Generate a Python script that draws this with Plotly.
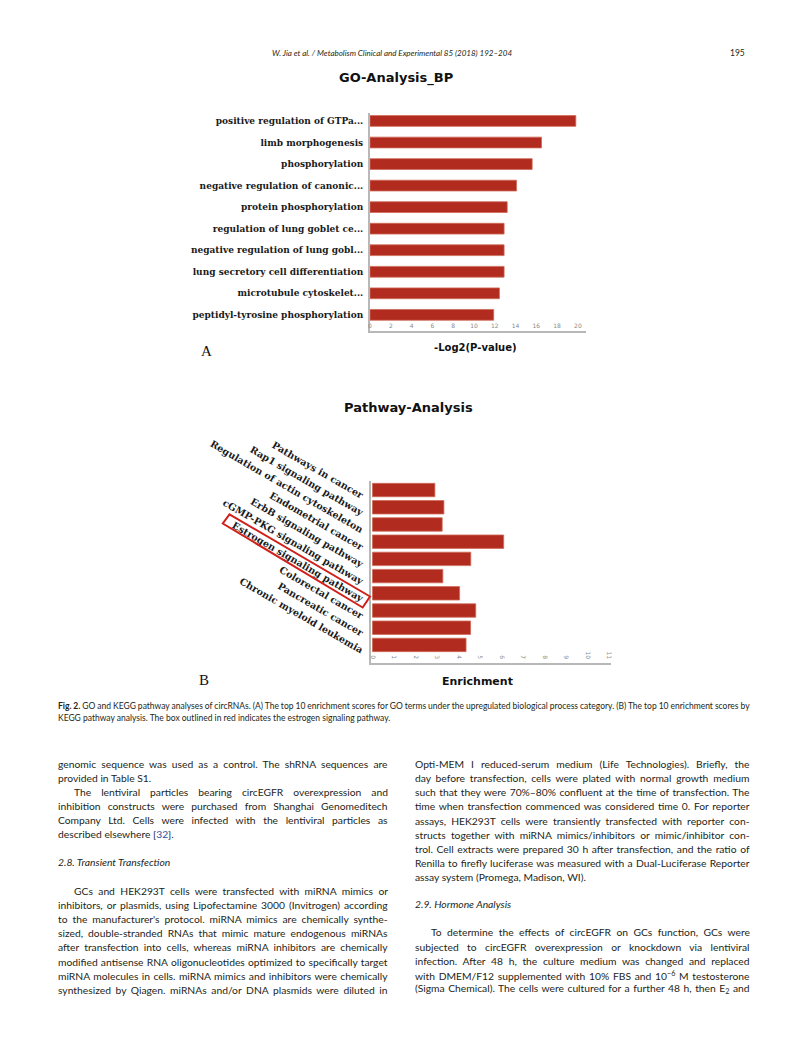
import json
import plotly.graph_objects as go

W, H = 793, 1058

# ---------------- data ----------------
go_terms = [
    "positive regulation of GTPa...",
    "limb morphogenesis",
    "phosphorylation",
    "negative regulation of canonic...",
    "protein phosphorylation",
    "regulation of lung goblet ce...",
    "negative regulation of lung gobl...",
    "lung secretory cell differentiation",
    "microtubule cytoskelet...",
    "peptidyl-tyrosine phosphorylation",
]
go_values = [19.8, 16.5, 15.6, 14.1, 13.2, 12.9, 12.9, 12.9, 12.45, 11.9]
go_ticks = [0, 2, 4, 6, 8, 10, 12, 14, 16, 18, 20]

kegg_terms = [
    "Pathways in cancer",
    "Rap1 signaling pathway",
    "Regulation of actin cytoskeleton",
    "Endometrial cancer",
    "ErbB signaling pathway",
    "cGMP-PKG signaling pathway",
    "Estrogen signaling pathway",
    "Colorectal cancer",
    "Pancreatic cancer",
    "Chronic myeloid leukemia",
]
kegg_values = [2.9, 3.32, 3.24, 6.1, 4.57, 3.27, 4.05, 4.8, 4.56, 4.35]
kegg_ticks = [0, 1, 2, 3, 4, 5, 6, 7, 8, 9, 10, 11]

header_text = "<i>W. Jia et al. / Metabolism Clinical and Experimental 85 (2018) 192–204</i>"
page_number = "195"

caption_lines = [
    "<b>Fig. 2.</b> GO and KEGG pathway analyses of circRNAs. (A) The top 10 enrichment scores for GO terms under the upregulated biological process category. (B) The top 10 enrichment scores by",
    "KEGG pathway analysis. The box outlined in red indicates the estrogen signaling pathway.",
]

# (text, style) style: J = justified, L = last line (left), JI = indented justified, H = italic heading
left_lines = [
    ("genomic sequence was used as a control. The shRNA sequences are", "J"),
    ("provided in Table S1.", "L"),
    ("The lentiviral particles bearing circEGFR overexpression and", "JI"),
    ("inhibition constructs were purchased from Shanghai Genomeditech", "J"),
    ("Company Ltd. Cells were infected with the lentiviral particles as", "J"),
    ("described elsewhere [<span style='color:#2f4f9f'>32</span>].", "L"),
    ("<i>2.8. Transient Transfection</i>", "H"),
    ("GCs and HEK293T cells were transfected with miRNA mimics or", "JI"),
    ("inhibitors, or plasmids, using Lipofectamine 3000 (Invitrogen) according", "J"),
    ("to the manufacturer's protocol. miRNA mimics are chemically synthe-", "J"),
    ("sized, double-stranded RNAs that mimic mature endogenous miRNAs", "J"),
    ("after transfection into cells, whereas miRNA inhibitors are chemically", "J"),
    ("modified antisense RNA oligonucleotides optimized to specifically target", "J"),
    ("miRNA molecules in cells. miRNA mimics and inhibitors were chemically", "J"),
    ("synthesized by Qiagen. miRNAs and/or DNA plasmids were diluted in", "J"),
]
left_y = [763.5, 777.5, 791.8, 806, 820, 834, 862, 890.7, 905, 919.3, 933.3, 947.3, 961.7, 975.7, 989.5]

right_lines = [
    ("Opti-MEM I reduced-serum medium (Life Technologies). Briefly, the", "J"),
    ("day before transfection, cells were plated with normal growth medium", "J"),
    ("such that they were 70%–80% confluent at the time of transfection. The", "J"),
    ("time when transfection commenced was considered time 0. For reporter", "J"),
    ("assays, HEK293T cells were transiently transfected with reporter con-", "J"),
    ("structs together with miRNA mimics/inhibitors or mimic/inhibitor con-", "J"),
    ("trol. Cell extracts were prepared 30 h after transfection, and the ratio of", "J"),
    ("Renilla to firefly luciferase was measured with a Dual-Luciferase Reporter", "J"),
    ("assay system (Promega, Madison, WI).", "L"),
    ("<i>2.9. Hormone Analysis</i>", "H"),
    ("To determine the effects of circEGFR on GCs function, GCs were", "JI"),
    ("subjected to circEGFR overexpression or knockdown via lentiviral", "J"),
    ("infection. After 48 h, the culture medium was changed and replaced", "J"),
    ("with DMEM/F12 supplemented with 10% FBS and 10<sup>−6</sup> M testosterone", "J"),
    ("(Sigma Chemical). The cells were cultured for a further 48 h, then E<sub>2</sub> and", "J"),
]
right_y = [764, 778.3, 792.3, 806.3, 820.7, 834.7, 848.7, 862.7, 876.7, 904, 932.3, 946.7, 960.7, 975, 988.7]

# ---------------- styles ----------------
BAR = "#b12b1e"
BAR_EDGE = "#cf6a58"
AXIS = "#b8b8b8"
TXT = "#231f20"
BODY_FONT = "Lato"
BODY_SIZE = 10.3
CAP_SIZE = 8.5


def fx(x):
    return x / W


def fy(y):
    return 1 - y / H


fig = go.Figure()
fig.add_trace(go.Bar(
    y=go_terms, x=go_values, orientation="h", width=0.5,
    marker=dict(color=BAR, line=dict(color=BAR_EDGE, width=0.8)),
    xaxis="x", yaxis="y", hoverinfo="skip", showlegend=False,
))
fig.add_trace(go.Bar(
    y=kegg_terms, x=kegg_values, orientation="h", width=0.78,
    marker=dict(color=BAR, line=dict(color=BAR_EDGE, width=0.8)),
    xaxis="x2", yaxis="y2", hoverinfo="skip", showlegend=False,
))

annotations = []
justify = {}


def add_ann(text, x, y, size, xanchor="left", family=BODY_FONT, color=TXT, weight=None, target=None):
    font = dict(family=family, size=size, color=color)
    if weight:
        font["weight"] = weight
    annotations.append(dict(
        text=text, x=fx(x), y=fy(y), xref="paper", yref="paper",
        xanchor=xanchor, yanchor="middle", align=xanchor if xanchor != "center" else "center",
        showarrow=False, borderpad=0, font=font,
    ))
    if target is not None:
        justify[str(len(annotations) - 1)] = target


# chart titles / labels
add_ann("GO-Analysis_BP", 396, 78, 13, xanchor="center", family="DejaVu Sans", color="#111", weight="bold")
add_ann("-Log2(P-value)", 475, 347.5, 10, xanchor="center", family="DejaVu Sans", color="#111", weight="bold")
add_ann("A", 207, 351, 15, xanchor="center", family="Liberation Serif", color="#111")
add_ann("Pathway-Analysis", 408, 407.5, 13, xanchor="center", family="DejaVu Sans", color="#111", weight="bold")
add_ann("Enrichment", 477, 681.5, 11, xanchor="center", family="DejaVu Sans", color="#111", weight="bold")
add_ann("B", 204, 680, 15, xanchor="center", family="Liberation Serif", color="#111")

# header
add_ann(header_text, 392, 53, 8, xanchor="center")
add_ann(page_number, 737, 53, 8.5, xanchor="center")

# caption
add_ann(caption_lines[0], 57, 706, CAP_SIZE, target=748.5 - 57)
add_ann(caption_lines[1], 57, 718, CAP_SIZE)

# body columns
INDENT = 15.5
for (txt, st), yy in zip(left_lines, left_y):
    x0 = 57 + (INDENT if st == "JI" else 0)
    tgt = 386.5 - x0 if st in ("J", "JI") else None
    add_ann(txt, x0, yy, BODY_SIZE, target=tgt)
for (txt, st), yy in zip(right_lines, right_y):
    x0 = 414 + (INDENT if st == "JI" else 0)
    tgt = 748.5 - x0 if st in ("J", "JI") else None
    add_ann(txt, x0, yy, BODY_SIZE, target=tgt)

# red box around "Estrogen signaling pathway"
box = [(229.5, 514.3), (370.0, 596.5), (362.7, 607.5), (222.8, 523.5)]
path = "M " + " L ".join(f"{fx(a):.5f},{fy(b):.5f}" for a, b in box) + " Z"
shapes = [dict(type="path", xref="paper", yref="paper", path=path,
               line=dict(color="#d0201c", width=2), fillcolor="rgba(0,0,0,0)")]

tickfont_small = dict(family="DejaVu Sans", size=6, color="#8a8a8a")

fig.update_layout(
    width=W, height=H, autosize=False,
    margin=dict(l=0, r=0, t=0, b=0),
    paper_bgcolor="white", plot_bgcolor="white",
    showlegend=False,
    annotations=annotations, shapes=shapes,
    xaxis=dict(
        domain=[fx(370), fx(586)], range=[0, 20.78], anchor="y",
        tickvals=go_ticks, ticktext=[str(t) for t in go_ticks],
        ticklabelposition="inside", ticklabeloverflow="allow", ticks="", tickfont=tickfont_small,
        showline=True, linecolor=AXIS, linewidth=1.5,
        showgrid=False, zeroline=False, automargin=False, fixedrange=True,
    ),
    yaxis=dict(
        domain=[fy(331), fy(113)], range=[9.75, -0.37], anchor="x", type="category",
        showline=True, linecolor=AXIS, linewidth=2, ticks="", ticklabelstandoff=3,
        tickfont=dict(family="DejaVu Serif", size=9, color="#1a1a1a", weight="bold"),
        showgrid=False, zeroline=False, automargin=False, fixedrange=True,
    ),
    xaxis2=dict(
        domain=[fx(371), fx(611)], range=[-0.07, 11.09], anchor="y2",
        tickvals=kegg_ticks, ticktext=[str(t) for t in kegg_ticks],
        ticklabelposition="inside", ticklabeloverflow="allow", tickangle=90, ticks="",
        tickfont=tickfont_small,
        showline=True, linecolor=AXIS, linewidth=1.5,
        showgrid=False, zeroline=False, automargin=False, fixedrange=True,
    ),
    yaxis2=dict(
        domain=[fy(663), fy(481)], range=[10.05, -0.526], anchor="x2", type="category",
        showline=True, linecolor=AXIS, linewidth=2, ticks="", ticklabelstandoff=4,
        tickangle=30, ticklabelshift=-6,
        tickfont=dict(family="DejaVu Serif", size=9.6, color="#1a1a1a", weight="bold"),
        showgrid=False, zeroline=False, automargin=False, fixedrange=True,
    ),
)

post = """
document.body.style.margin = '0';
document.body.style.padding = '0';
var gd = document.getElementById('{plot_id}');
var J = %s;
function justifyLines(){
  var gs = gd.querySelectorAll('g.annotation');
  gs.forEach(function(g){
    var i = g.getAttribute('data-index');
    if (J[i] === undefined) return;
    var t = g.querySelector('text');
    if (!t) return;
    t.style.wordSpacing = '0px';
    var w = t.getComputedTextLength();
    var n = (t.textContent.match(/[ \\u00a0]/g) || []).length;
    if (n > 0) t.style.wordSpacing = ((J[i] - w) / n).toFixed(3) + 'px';
  });
}
justifyLines();
if (document.fonts && document.fonts.ready) { document.fonts.ready.then(justifyLines); }
setTimeout(justifyLines, 300);
""" % json.dumps(justify)

fig.write_html("out.html", config={"displayModeBar": False, "staticPlot": True}, post_script=post)
